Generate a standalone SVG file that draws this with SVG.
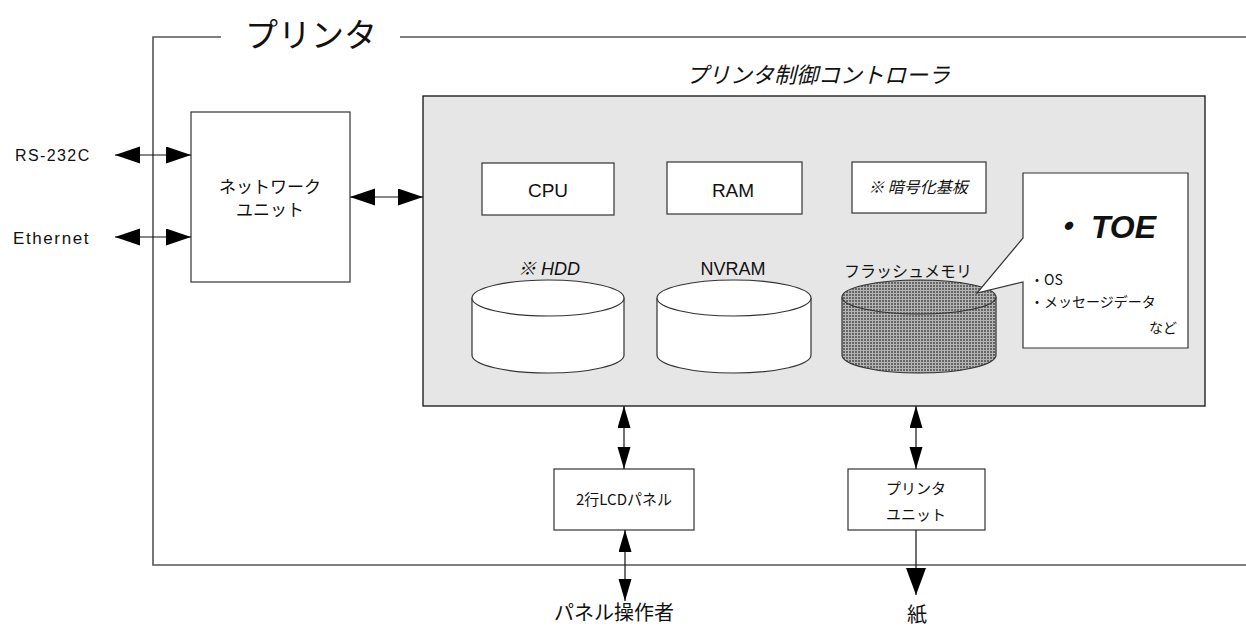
<svg xmlns="http://www.w3.org/2000/svg" width="1246" height="631" viewBox="0 0 1246 631">
<defs>
<style>
.t{font-family:"Liberation Sans","Noto Sans CJK JP",sans-serif;fill:#111}
.j{font-family:"Noto Sans CJK JP","Liberation Sans",sans-serif;fill:#111}
.box{fill:#fff;stroke:#333;stroke-width:1.2}
.ln{stroke:#111;stroke-width:1.2;fill:none}
.frame{stroke:#555;stroke-width:1.6;fill:none}
</style>
<pattern id="dither" width="3" height="3" patternUnits="userSpaceOnUse">
<rect width="3" height="3" fill="#b4b4b4"/>
<rect width="2" height="2" fill="#666"/>
</pattern>
<marker id="ah" markerUnits="userSpaceOnUse" markerWidth="26" markerHeight="18" refX="25" refY="8.5" orient="auto-start-reverse">
<path d="M0,0 L25,8.5 L0,17 Z" fill="#000"/>
</marker>
<marker id="av" markerUnits="userSpaceOnUse" markerWidth="23" markerHeight="14" refX="22" refY="6.5" orient="auto-start-reverse">
<path d="M0,0 L22,6.5 L0,13 Z" fill="#000"/>
</marker>
<marker id="ab" markerUnits="userSpaceOnUse" markerWidth="28" markerHeight="22" refX="27" refY="10" orient="auto">
<path d="M0,0 L27,10 L0,20 Z" fill="#000"/>
</marker>
</defs>
<rect width="1246" height="631" fill="#fff"/>

<g id="printer-frame">
<path class="frame" d="M221,37 H153 V565 H1246"/>
<path class="frame" d="M400,37 H1246"/>
<text class="j" x="245" y="47" font-size="33">プリンタ</text>
</g>

<g id="controller">
<text class="j" x="686" y="83" font-size="22" font-style="italic">プリンタ制御コントローラ</text>
<rect x="423" y="96" width="782" height="310" fill="#e6e6e6" stroke="#222" stroke-width="1.4"/>
</g>

<g id="network-unit">
<rect class="box" x="191" y="112" width="159" height="170"/>
<text class="j" x="270" y="193" font-size="17" text-anchor="middle">ネットワーク</text>
<text class="j" x="270" y="216" font-size="17" text-anchor="middle">ユニット</text>
</g>

<g id="rs232c">
<text class="t" x="15" y="161" font-size="16" letter-spacing="1.4">RS-232C</text>
</g>
<g id="ethernet">
<text class="t" x="13" y="244" font-size="17" letter-spacing="1.6">Ethernet</text>
</g>

<g id="cpu">
<rect class="box" x="482" y="163" width="132" height="52"/>
<text class="t" x="548" y="197" font-size="19" text-anchor="middle">CPU</text>
</g>
<g id="ram">
<rect class="box" x="667" y="162" width="135" height="52"/>
<text class="t" x="733" y="197" font-size="19" text-anchor="middle">RAM</text>
</g>
<g id="crypto">
<rect class="box" x="852" y="162" width="134" height="51"/>
<text class="j" x="918" y="193" font-size="16" font-style="italic" text-anchor="middle">※ 暗号化基板</text>
</g>

<g id="hdd">
<text class="t" x="549" y="275" font-size="18" font-style="italic" text-anchor="middle">※ HDD</text>
<path class="box" d="M472,298 V355 A76,18 0 0 0 624,355 V298"/>
<ellipse class="box" cx="548" cy="298" rx="76" ry="18"/>
</g>
<g id="nvram">
<text class="t" x="733" y="275" font-size="18" text-anchor="middle">NVRAM</text>
<path class="box" d="M657,298 V355 A77,18 0 0 0 811,355 V298"/>
<ellipse class="box" cx="734" cy="298" rx="77" ry="18"/>
</g>
<g id="flash">
<text class="j" x="908" y="277" font-size="16" text-anchor="middle">フラッシュメモリ</text>
<path d="M842,297 V355 A77,18 0 0 0 996,355 V297" fill="url(#dither)" stroke="#333" stroke-width="1.2"/>
<ellipse cx="919" cy="297" rx="77" ry="17" fill="url(#dither)" stroke="#333" stroke-width="1.2"/>
</g>

<g id="toe">
<path d="M1023,173 H1188 V348 H1023 V282 L977,293 L1023,238 Z" fill="#fff" stroke="#333" stroke-width="1.2"/>
<text class="t" x="1050" y="238" font-size="32" font-style="italic" font-weight="bold">・ TOE</text>
<text class="j" x="1030" y="285" font-size="14">・OS</text>
<text class="j" x="1030" y="307" font-size="14">・メッセージデータ</text>
<text class="j" x="1177" y="333" font-size="14" text-anchor="end">など</text>
</g>

<g id="lcd-panel">
<rect class="box" x="554" y="469" width="140" height="61"/>
<text class="j" x="624" y="505" font-size="15" text-anchor="middle">2行LCDパネル</text>
</g>
<g id="printer-unit">
<rect class="box" x="848" y="469" width="137" height="61"/>
<text class="j" x="916" y="494" font-size="15" text-anchor="middle">プリンタ</text>
<text class="j" x="916" y="520" font-size="15" text-anchor="middle">ユニット</text>
</g>

<g id="operator">
<text class="j" x="614" y="620" font-size="20" text-anchor="middle">パネル操作者</text>
</g>
<g id="paper">
<text class="j" x="917" y="622" font-size="20" text-anchor="middle">紙</text>
</g>

<g id="connectors">
<line class="ln" x1="115" y1="155" x2="191" y2="155" marker-start="url(#ah)" marker-end="url(#ah)"/>
<line class="ln" x1="115" y1="237" x2="191" y2="237" marker-start="url(#ah)" marker-end="url(#ah)"/>
<line class="ln" x1="350" y1="197" x2="423" y2="197" marker-start="url(#ah)" marker-end="url(#ah)"/>
<line class="ln" x1="624" y1="406" x2="624" y2="469" marker-start="url(#av)" marker-end="url(#av)"/>
<line class="ln" x1="625" y1="530" x2="625" y2="601" marker-start="url(#av)" marker-end="url(#av)"/>
<line class="ln" x1="916" y1="406" x2="916" y2="469" marker-start="url(#av)" marker-end="url(#av)"/>
<line class="ln" x1="916" y1="530" x2="916" y2="595" marker-end="url(#ab)"/>
</g>
</svg>
